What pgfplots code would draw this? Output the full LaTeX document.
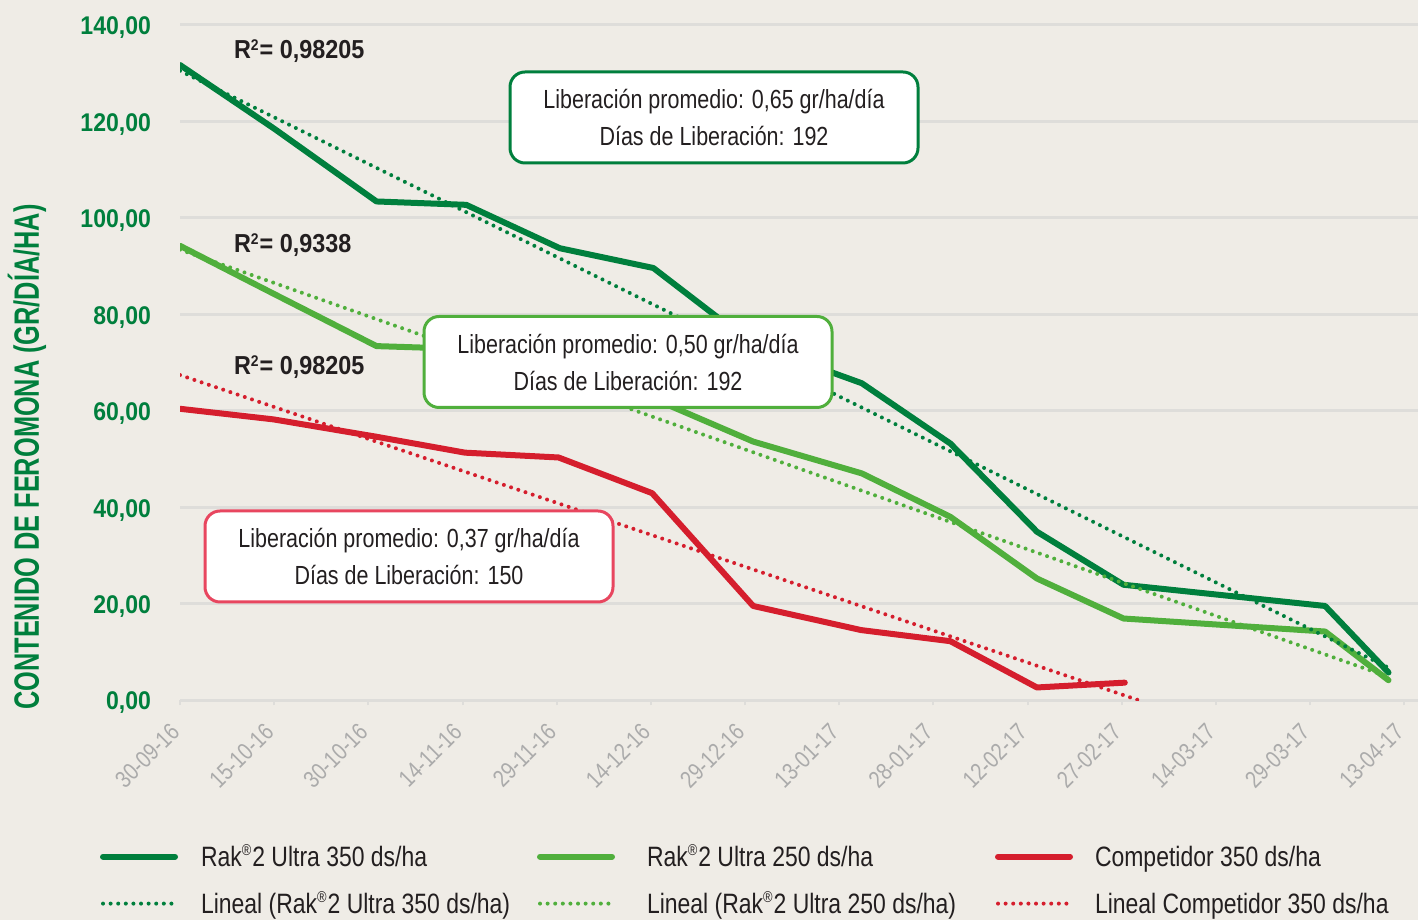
\documentclass[border=0pt]{standalone}
\usepackage{fontspec}
\setmainfont{Liberation Sans}[FakeStretch=0.82]
\newfontfamily\tickfont{Liberation Sans}[FakeStretch=0.9]
\newfontfamily\labfont{Liberation Sans}[FakeStretch=0.72]
\usepackage{pgfplots}
\pgfplotsset{compat=1.18}
\definecolor{dkgreen}{HTML}{007F3D}
\definecolor{ltgreen}{HTML}{50AF3C}
\definecolor{redc}{HTML}{D51E2D}
\definecolor{redbox}{HTML}{E8465F}
\definecolor{bgc}{HTML}{EFECE6}
\definecolor{gridc}{HTML}{DEDDDA}
\definecolor{tickgrey}{HTML}{ABABAB}
\definecolor{txt}{HTML}{231F20}
\newcommand{\reg}{\textsuperscript{\scalebox{0.8}{®}}}
\begin{document}
\begin{tikzpicture}
\fill[bgc, use as bounding box] (0pt,0pt) rectangle (709pt,460pt);
\begin{axis}[
  at={(90pt,110pt)}, anchor=south west, scale only axis,
  width=619pt, height=337.5pt,
  xmin=0, xmax=197.2, ymin=0, ymax=140,
  axis x line*=bottom, axis y line*=left,
  y axis line style={draw=none},
  x axis line style={draw=gridc, line width=1.5pt},
  ymajorgrids, grid style={gridc, line width=1.5pt},
  ytick={0,20,...,140},
  xtick={0,15,...,195},
  xticklabels={30-09-16,15-10-16,30-10-16,14-11-16,29-11-16,14-12-16,29-12-16,13-01-17,28-01-17,12-02-17,27-02-17,14-03-17,29-03-17,13-04-17},
  tick align=outside,
  xtick style={draw=gridc, line width=1pt},
  major tick length=2.5pt,
  ytick style={draw=none},
  yticklabel style={font=\tickfont\bfseries\fontsize{12.8}{12.8}\selectfont, text=dkgreen, xshift=-8.5pt, yshift=-1.5pt},
  /pgf/number format/.cd, fixed, fixed zerofill, precision=2, use comma, 1000 sep={}, assume math mode=true,
  /pgfplots/.cd,
  xticklabel style={font=\fontsize{12}{12}\selectfont, text=tickgrey, rotate=45, anchor=east},
  xticklabel shift=9pt,
  legend columns=3,
  legend cell align=left,
  legend style={at={(-0.0646,-0.2163)}, anchor=north west, draw=none, fill=none,
    inner sep=0pt, outer sep=0pt, row sep=10.5pt,
    nodes={inner sep=0pt, text height=10pt, text depth=3pt},
    font=\fontsize{14}{14}\selectfont, text=txt},
  legend image code/.code={\draw[#1] (1.5pt,1.2pt)--(37.5pt,1.2pt);},
]
\addplot[dkgreen, line width=3pt, line cap=round, line join=round] coordinates {
(0,131.7) (15,118.5) (31.3,103.4) (45.6,102.7) (60.5,93.7) (75.4,89.6) (91,74) (108.6,65.7) (122.7,53.2) (136.5,34.9) (150.3,23.9) (182.4,19.5) (192.5,5.7)};
\addlegendentry{\makebox[179.5pt][l]{\hspace{11.5pt}Rak\reg2 Ultra 350 ds/ha}}
\addplot[ltgreen, line width=3pt, line cap=round, line join=round] coordinates {
(0,94.2) (15,84.2) (31.3,73.4) (45.6,72.8) (60.5,68) (75.4,62.5) (91.3,53.6) (108.6,47.0) (122.7,38.0) (136.5,25.2) (150.3,16.9) (182.4,14.2) (192.5,4.1)};
\addlegendentry{\makebox[190pt][l]{\hspace{16pt}Rak\reg2 Ultra 250 ds/ha}}
\addplot[redc, line width=3pt, line cap=round, line join=round] coordinates {
(0,60.4) (14.9,58.2) (31.3,54.6) (45.4,51.3) (60.3,50.3) (75.2,42.9) (91.3,19.5) (108.5,14.5) (122.7,12.2) (136.5,2.6) (150.5,3.6)};
\addlegendentry{\hspace{11pt}Competidor 350 ds/ha}
\addplot[dkgreen, line width=2pt, line cap=round, dash pattern=on 0pt off 3.8pt] coordinates {(0,130.5) (192.5,6.7)};
\addlegendentry{\makebox[179.5pt][l]{\hspace{11.5pt}Lineal (Rak\reg2 Ultra 350 ds/ha)}}
\addplot[ltgreen, line width=2pt, line cap=round, dash pattern=on 0pt off 3.8pt] coordinates {(0,93.4) (192.5,4.8)};
\addlegendentry{\makebox[190pt][l]{\hspace{16pt}Lineal (Rak\reg2 Ultra 250 ds/ha)}}
\addplot[redc, line width=2pt, line cap=round, dash pattern=on 0pt off 3.8pt] coordinates {(0,67.4) (152.6,0)};
\addlegendentry{\hspace{11pt}Lineal Competidor 350 ds/ha}
\end{axis}
\node[rotate=90, font=\labfont\bfseries\fontsize{17.6}{17.6}\selectfont, text=dkgreen] at (13.5pt,231.5pt) {CONTENIDO DE FEROMONA (GR/DÍA/HA)};
\begin{scope}[every node/.style={anchor=west, font=\tickfont\bfseries\fontsize{13}{13}\selectfont, text=txt}]
\node at (113.5pt,434.5pt) {R\textsuperscript{\scalebox{0.85}{2}}= 0,98205};
\node at (113.5pt,337.5pt) {R\textsuperscript{\scalebox{0.85}{2}}= 0,9338};
\node at (113.5pt,276.5pt) {R\textsuperscript{\scalebox{0.85}{2}}= 0,98205};
\end{scope}
\begin{scope}[every node/.style={line width=1.5pt, fill=white, rounded corners=7.5pt, minimum width=204pt, minimum height=45.5pt, align=center, font=\fontsize{13.1}{18.5}\selectfont, text=txt}]
\node[draw=dkgreen] at (357pt,401.25pt) {Liberación promedio: 0,65 gr/ha/día\\Días de Liberación: 192};
\node[draw=ltgreen] at (314pt,279pt) {Liberación promedio: 0,50 gr/ha/día\\Días de Liberación: 192};
\node[draw=redbox] at (204.5pt,181.75pt) {Liberación promedio: 0,37 gr/ha/día\\Días de Liberación: 150};
\end{scope}
\end{tikzpicture}
\end{document}
